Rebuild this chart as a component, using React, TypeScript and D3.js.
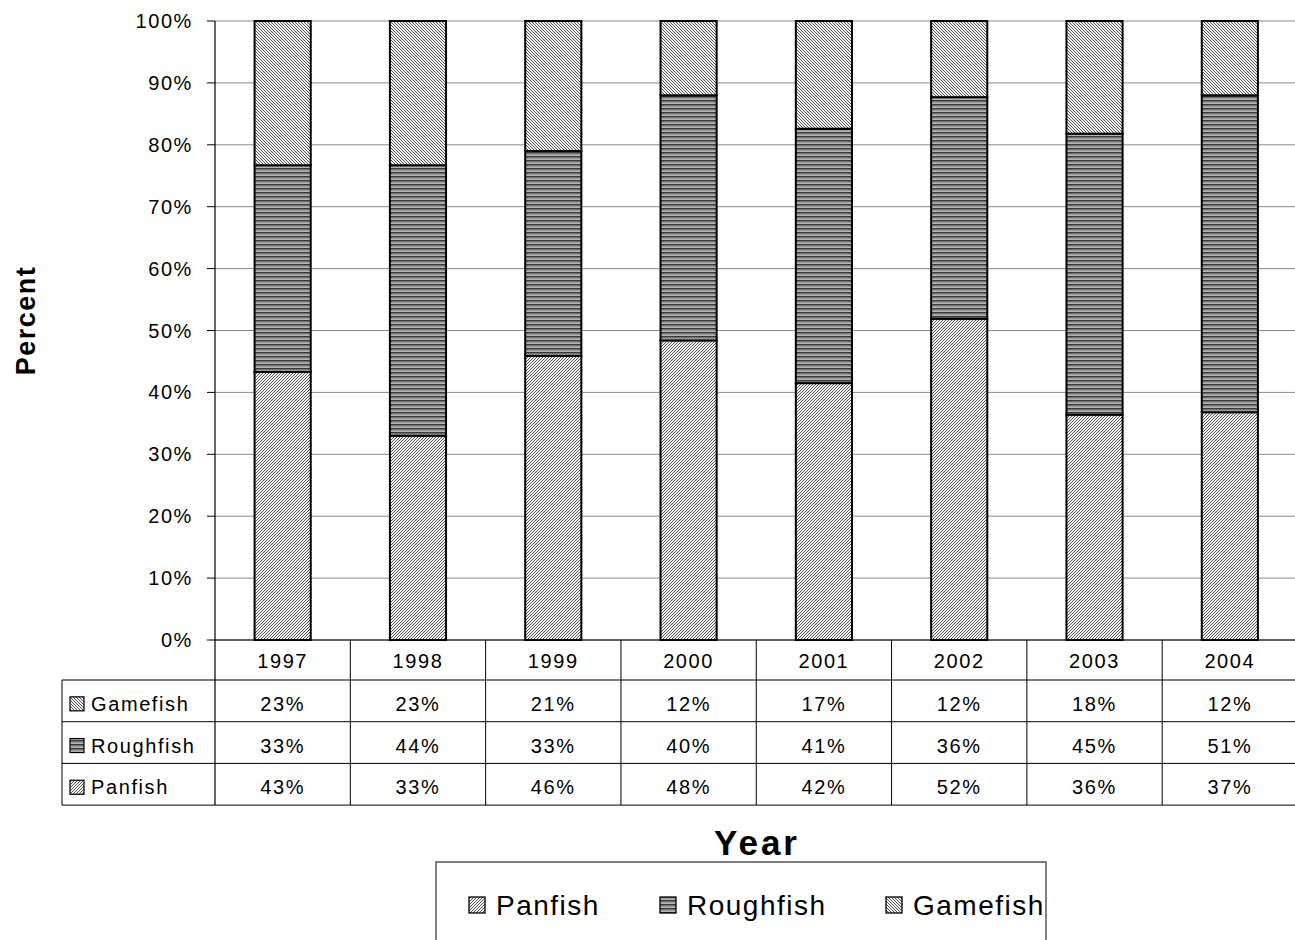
import React from "react";
import * as d3 from "d3";

const years = ["1997", "1998", "1999", "2000", "2001", "2002", "2003", "2004"];
const panfish = [43.3, 33.0, 45.9, 48.4, 41.5, 51.9, 36.4, 36.8];
const roughfish = [33.4, 43.7, 33.1, 39.6, 41.1, 35.8, 45.4, 51.2];
const gamefish = [23.3, 23.3, 21.0, 12.0, 17.4, 12.3, 18.2, 12.0];
const yTicks = [0, 10, 20, 30, 40, 50, 60, 70, 80, 90, 100];

const series = [
  { key: "Panfish", values: panfish, pattern: "pan" },
  { key: "Roughfish", values: roughfish, pattern: "rough" },
  { key: "Gamefish", values: gamefish, pattern: "game" },
];

const W = 1295;
const H = 940;
const font = "'Liberation Sans', Arial, sans-serif";

const App = () => {
  const left = 215;
  const right = 1297.5;
  const top = 21;
  const bottom = 640;

  const x = d3
    .scaleBand<string>()
    .domain(years)
    .range([left, right])
    .paddingInner(0.585)
    .paddingOuter(0.2925);
  const step = x.step();
  const y = d3.scaleLinear().domain([0, 100]).range([bottom, top]);

  const stack = d3
    .stack<number>()
    .keys(series.map((s) => s.key))
    .value((i, key) => series.find((s) => s.key === key)!.values[i]);
  const stacked = stack(d3.range(years.length));

  // data table rows
  const yearRowBottom = 680;
  const rowH = 41.7;
  const tableRows = [
    { key: "Gamefish", values: gamefish, pattern: "game" },
    { key: "Roughfish", values: roughfish, pattern: "rough" },
    { key: "Panfish", values: panfish, pattern: "pan" },
  ];
  const tableLeft = 62;
  const tableBottom = yearRowBottom + rowH * tableRows.length;
  const colStart = (i: number) => left + i * step;
  const fs = 20;
  const ls = 1.6;

  return (
    <svg
      width={W}
      height={H}
      style={{ position: "absolute", left: 0, top: 0, background: "#fff" }}
      fontFamily={font}
    >
      <defs>
        <pattern id="pan" width="3" height="3" patternUnits="userSpaceOnUse">
          <rect width="3" height="3" fill="#f2f2f2" />
          <path d="M-1,1 l2,-2 M0,3 l3,-3 M2,4 l2,-2" stroke="#444" strokeWidth="0.9" />
        </pattern>
        <pattern id="game" width="3" height="3" patternUnits="userSpaceOnUse">
          <rect width="3" height="3" fill="#f2f2f2" />
          <path d="M-1,-1 l5,5 M-1,2 l2,2 M2,-1 l2,2" stroke="#444" strokeWidth="0.9" />
        </pattern>
        <pattern id="rough" width="4" height="4" patternUnits="userSpaceOnUse">
          <rect width="4" height="4" fill="#b4b4b4" />
          <rect y="0" width="4" height="1.6" fill="#3a3a3a" />
          <rect y="1.6" width="4" height="0.8" fill="#777" />
        </pattern>
      </defs>

      {/* gridlines */}
      {yTicks.map((t) => (
        <line
          key={t}
          x1={left}
          x2={right}
          y1={y(t)}
          y2={y(t)}
          stroke="#8a8a8a"
          strokeWidth={1}
        />
      ))}

      {/* y axis */}
      <line x1={left} x2={left} y1={top} y2={tableBottom} stroke="#000" strokeWidth={1.2} />
      {yTicks.map((t) => (
        <g key={t}>
          <line x1={left - 8} x2={left} y1={y(t)} y2={y(t)} stroke="#000" />
          <text
            x={left - 22}
            y={y(t)}
            textAnchor="end"
            dominantBaseline="central"
            fontSize={fs}
            letterSpacing={ls}
          >
            {t}%
          </text>
        </g>
      ))}

      {/* bars */}
      {stacked.map((layer, si) =>
        layer.map((d, i) => (
          <rect
            key={series[si].key + i}
            x={x(years[i])}
            width={x.bandwidth()}
            y={y(d[1])}
            height={y(d[0]) - y(d[1])}
            fill={`url(#${series[si].pattern})`}
            stroke="#000"
            strokeWidth={2}
          />
        )),
      )}

      {/* data table */}
      <line x1={left} x2={right} y1={bottom} y2={bottom} stroke="#000" />
      {[yearRowBottom, ...tableRows.map((_, r) => yearRowBottom + rowH * (r + 1))].map((ly) => (
        <line key={ly} x1={tableLeft} x2={right} y1={ly} y2={ly} stroke="#000" />
      ))}
      <line x1={tableLeft} x2={tableLeft} y1={yearRowBottom} y2={tableBottom} stroke="#000" />
      {years.map((yr, i) => (
        <g key={yr}>
          {i > 0 && (
            <line
              x1={colStart(i)}
              x2={colStart(i)}
              y1={bottom}
              y2={tableBottom}
              stroke="#000"
            />
          )}
          <text
            x={colStart(i) + step / 2}
            y={(bottom + yearRowBottom) / 2 + 1}
            textAnchor="middle"
            dominantBaseline="central"
            fontSize={fs}
            letterSpacing={ls}
          >
            {yr}
          </text>
          {tableRows.map((row, r) => (
            <text
              key={row.key}
              x={colStart(i) + step / 2}
              y={yearRowBottom + rowH * (r + 0.5) + 3}
              textAnchor="middle"
              dominantBaseline="central"
              fontSize={fs}
              letterSpacing={ls}
            >
              {d3.format(".0f")(row.values[i])}%
            </text>
          ))}
        </g>
      ))}
      {tableRows.map((row, r) => {
        const cy = yearRowBottom + rowH * (r + 0.5) + 3;
        return (
          <g key={row.key}>
            <rect
              x={70}
              y={cy - 7}
              width={14}
              height={14}
              fill={`url(#${row.pattern})`}
              stroke="#000"
              strokeWidth={1.2}
            />
            <text
              x={91}
              y={cy}
              dominantBaseline="central"
              fontSize={fs}
              letterSpacing={ls}
            >
              {row.key}
            </text>
          </g>
        );
      })}

      {/* axis titles */}
      <text
        transform={`translate(35,${(top + bottom) / 2 - 10}) rotate(-90)`}
        textAnchor="middle"
        fontSize={27}
        fontWeight="bold"
        letterSpacing={1.5}
      >
        Percent
      </text>
      <text x={757} y={855} textAnchor="middle" fontSize={35} fontWeight="bold" letterSpacing={3}>
        Year
      </text>

      {/* legend */}
      <rect x={436} y={862} width={610} height={90} fill="#fff" stroke="#555" strokeWidth={1.5} />
      {series.map((s, i) => {
        const lx = [469, 660, 886][i];
        return (
          <g key={s.key}>
            <rect
              x={lx}
              y={897}
              width={16}
              height={16}
              fill={`url(#${s.pattern})`}
              stroke="#000"
              strokeWidth={1.3}
            />
            <text
              x={lx + 27}
              y={905}
              dominantBaseline="central"
              fontSize={28}
              letterSpacing={1.5}
            >
              {s.key}
            </text>
          </g>
        );
      })}
    </svg>
  );
};

export default App;
